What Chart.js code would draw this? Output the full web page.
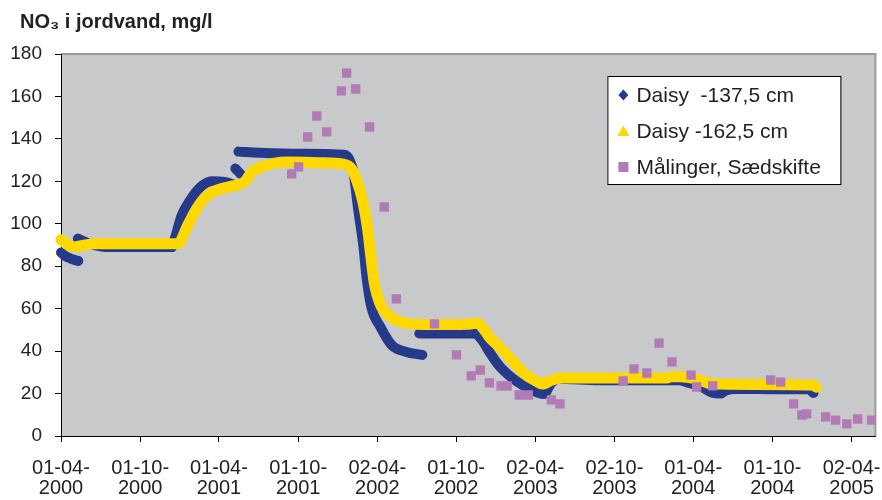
<!DOCTYPE html>
<html>
<head>
<meta charset="utf-8">
<title>NO3 i jordvand</title>
<script src="https://cdn.jsdelivr.net/npm/chart.js@4.4.0/dist/chart.umd.min.js"></script>
<style>
  html, body { margin: 0; padding: 0; background: #fff; }
  #wrap { width: 882px; height: 500px; }
</style>
</head>
<body>
<div id="wrap"><canvas id="no3"></canvas></div>
<script>
// x values are days counted from 01-04-2000
const xTickLabels = ['01-04-2000', '01-10-2000', '01-04-2001', '01-10-2001', '02-04-2002', '01-10-2002',
  '02-04-2003', '02-10-2003', '01-04-2004', '01-10-2004', '02-04-2005'];

// Daisy -137,5 cm (null = break in the simulated series)
const daisy137Days = [0, 8, 18, 30, 40, null,
  39, 50, 67, 113, 256, 263, 279, 298, 321, 348, 378, 404, null,
  403, 415, null,
  410, 459, 551, 655, 667, 676, 687, 699, 706, 717, 738, 764, 798, 835, null,
  828, 955, 973, 990, 1013, 1040, 1070, 1098, 1116, 1133, 1151, 1243, 1428, 1451, 1474, 1504, 1525, 1536, 1559, 1659, 1728, 1739];
const daisy137Values = [86.5, 85, 84, 83, 82.5, null,
  93, 92, 90.5, 89, 89, 93, 104, 111, 117, 120, 119.7, 118, null,
  126, 123.5, null,
  134, 133.5, 133, 132.5, 130, 124, 106.5, 89, 75, 60.8, 51.4, 42.9, 39.6, 38.2, null,
  48.3, 48.3, 45.2, 39.6, 33, 27.8, 23.6, 20.7, 19.8, 25, 27, 26.3, 26.3, 25, 23.8, 20.5, 20, 21.4, 22.2, 22, 22, 20.3];

// Daisy -162,5 cm
const daisy162Days = [0, 12, 28, 55, 78, 270, 293, 316, 339, 362, 385, 408, 424, 441, 464, 494, 524, 597, 655,
  671, 683, 697, 708, 717, 724, 731, 740, 759, 782, 835, 943, 962, 973, 990, 1008, 1029, 1052, 1075, 1098,
  1112, 1135, 1158, 1400, 1412, 1451, 1474, 1504, 1600, 1735, 1746];
const daisy162Values = [92.5, 90.5, 89, 90, 90.6, 90.6, 99.4, 107.9, 113.6, 116, 117.3, 118.3, 119.7, 124.4, 126.8, 128.6, 129.1, 128.8, 128,
  126, 120.6, 111, 98.5, 83, 72, 66, 61, 56.5, 54, 52.5, 52.7, 53.2, 51.4, 46.6, 42.9, 38.6, 33.4, 28.7, 25.9,
  24.5, 26.4, 27.3, 27.3, 28, 27.5, 26.5, 24.6, 24.3, 24, 23];

// Målinger, Sædskifte
const maalingDays = [533, 549, 570, 591, 614, 648, 660, 681, 713, 747, 775, 863, 914, 948, 969, 990, 1017, 1031,
  1059, 1080, 1133, 1153, 1299, 1324, 1354, 1382, 1412, 1456, 1469, 1506, 1640, 1663, 1693, 1712, 1723, 1767,
  1790, 1816, 1841, 1873];
const maalingValues = [123.5, 126.8, 140.9, 150.8, 143.3, 162.6, 171, 163.5, 145.6, 107.9, 64.6, 52.8, 38.2, 28.3, 31.1, 25, 23.6, 23.6,
  19.3, 19.3, 17, 15.1, 25.9, 31.6, 29.7, 43.8, 34.9, 28.7, 23.1, 23.6, 26.4, 25.4, 15.1, 9.9, 10.4, 9,
  7.5, 5.7, 8, 7.5];

const startDay = Date.UTC(2000, 3, 1);
function dayOf(label) {
  const [d, m, y] = label.split('-').map(Number);
  return Math.round((Date.UTC(y, m - 1, d) - startDay) / 864e5);
}
const xTickDays = xTickLabels.map(dayOf);

const pairs = (days, vals) => days.map((d, i) => ({ x: d, y: vals[i] }));

const FONT = '"Liberation Sans", Arial, sans-serif';
const BLUE = '#263a8c';
const YELLOW = '#ffd800';
const PINK = '#b27bb6';
const TITLE = 'NO₃ i jordvand, mg/l';

// grey plot area with a thin grey frame on top and right, plus the title
const plotArea = {
  id: 'plotArea',
  beforeDraw(chart) {
    const { ctx, chartArea: a } = chart;
    ctx.save();
    ctx.fillStyle = '#c8c9cb';
    ctx.fillRect(a.left, a.top, a.width, a.height);
    ctx.strokeStyle = '#9a9a9a';
    ctx.lineWidth = 2;
    ctx.beginPath();
    ctx.moveTo(a.left, a.top);
    ctx.lineTo(a.right, a.top);
    ctx.lineTo(a.right, a.bottom);
    ctx.stroke();
    ctx.fillStyle = '#222';
    ctx.font = 'bold 20px ' + FONT;
    ctx.textBaseline = 'alphabetic';
    ctx.fillText(TITLE, 20, 28);
    ctx.restore();
  }
};

function marker(ctx, style, x, y) {
  ctx.beginPath();
  if (style === 'rectRot') {
    ctx.moveTo(x, y - 5.5); ctx.lineTo(x + 5, y); ctx.lineTo(x, y + 5.5); ctx.lineTo(x - 5, y);
  } else if (style === 'triangle') {
    ctx.moveTo(x, y - 5.5); ctx.lineTo(x + 6, y + 5); ctx.lineTo(x - 6, y + 5);
  } else {
    ctx.rect(x - 5, y - 5, 10, 10);
  }
  ctx.closePath();
  ctx.fill();
}

// boxed legend inside the plot, top right
const legendBox = {
  id: 'legendBox',
  afterDraw(chart) {
    const { ctx, chartArea: a } = chart;
    const left = a.right - 268, top = a.top + 22, w = 233, h = 108;
    ctx.save();
    ctx.fillStyle = '#fff';
    ctx.fillRect(left, top, w, h);
    ctx.strokeStyle = '#000';
    ctx.lineWidth = 1;
    ctx.strokeRect(left + 0.5, top + 0.5, w, h);
    ctx.font = '21px ' + FONT;
    ctx.textBaseline = 'alphabetic';
    chart.data.datasets.forEach((ds, i) => {
      const cy = top + 19 + i * 36;
      ctx.fillStyle = ds.legendColor;
      marker(ctx, ds.pointStyle, left + 16, cy);
      ctx.fillStyle = '#222';
      ctx.fillText(ds.label, left + 29, cy + 7);
    });
    ctx.restore();
  }
};

new Chart(document.getElementById('no3'), {
  type: 'line',
  data: {
    datasets: [{
      label: 'Daisy  -137,5 cm',
      data: pairs(daisy137Days, daisy137Values),
      borderColor: BLUE,
      legendColor: BLUE,
      pointStyle: 'rectRot',
      borderWidth: 10,
      borderCapStyle: 'round',
      borderJoinStyle: 'round',
      cubicInterpolationMode: 'monotone',
      pointRadius: 0,
      clip: false,
      order: 3
    }, {
      label: 'Daisy -162,5 cm',
      data: pairs(daisy162Days, daisy162Values),
      borderColor: YELLOW,
      legendColor: YELLOW,
      pointStyle: 'triangle',
      borderWidth: 11,
      borderCapStyle: 'round',
      borderJoinStyle: 'round',
      cubicInterpolationMode: 'monotone',
      pointRadius: 0,
      clip: false,
      order: 2
    }, {
      label: 'Målinger, Sædskifte',
      data: pairs(maalingDays, maalingValues),
      showLine: false,
      legendColor: PINK,
      pointStyle: 'rect',
      pointRadius: 6.6,
      pointBackgroundColor: PINK,
      pointBorderWidth: 0,
      order: 1
    }]
  },
  options: {
    responsive: true,
    maintainAspectRatio: false,
    animation: false,
    events: [],
    layout: { padding: { left: 0, right: 5, top: 54, bottom: 0 } },
    scales: {
      x: {
        type: 'linear',
        min: 0,
        max: 1882,
        afterBuildTicks: axis => { axis.ticks = xTickDays.map(v => ({ value: v })); },
        afterFit: s => { s.height = 64; s.paddingLeft = 0; s.paddingRight = 0; },
        ticks: {
          autoSkip: false,
          maxRotation: 0,
          padding: 16,
          color: '#222',
          font: { family: FONT, size: 20, lineHeight: 1 },
          callback: (v, i) => [xTickLabels[i].slice(0, 6), xTickLabels[i].slice(6)]
        },
        grid: { drawOnChartArea: false, drawTicks: true, tickLength: 6, color: '#000' },
        border: { display: true, color: '#000', width: 1 }
      },
      y: {
        min: 0,
        max: 180,
        afterFit: s => { s.width = 61; },
        ticks: {
          stepSize: 20,
          padding: 13,
          color: '#222',
          font: { family: FONT, size: 19 }
        },
        grid: { drawOnChartArea: false, drawTicks: true, tickLength: 6, color: '#000' },
        border: { display: true, color: '#000', width: 1 }
      }
    },
    plugins: {
      legend: { display: false },
      tooltip: { enabled: false },
      title: { display: false }
    }
  },
  plugins: [plotArea, legendBox]
});
</script>
</body>
</html>
